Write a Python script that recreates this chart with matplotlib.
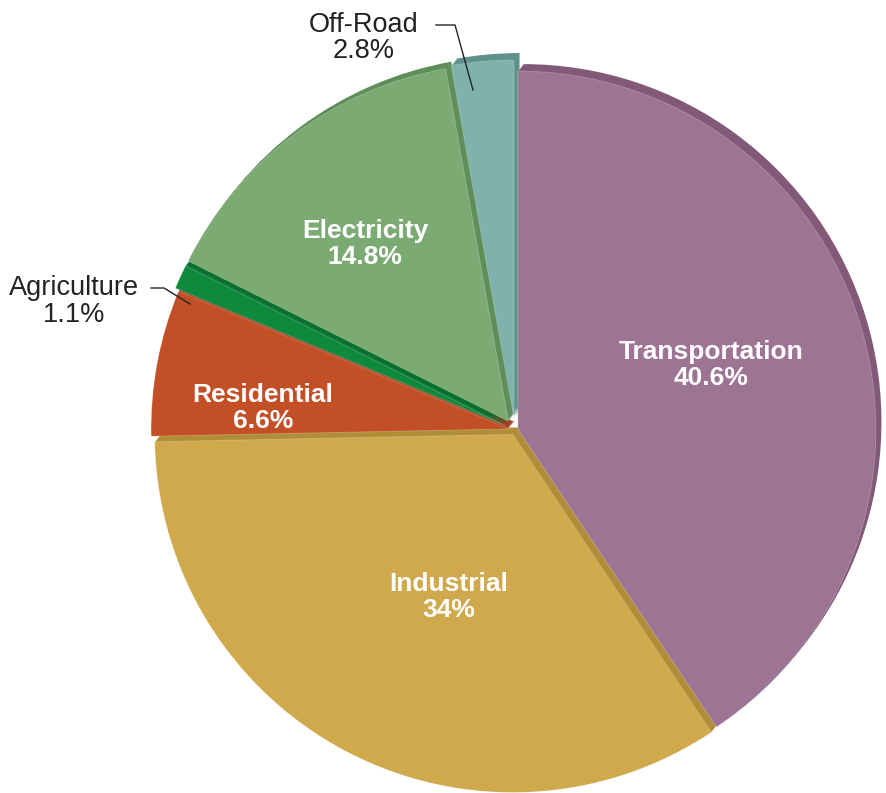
import matplotlib.pyplot as plt

categories = ['Transportation', 'Industrial', 'Residential', 'Agriculture', 'Electricity', 'Off-Road']
shares = [40.6, 34.0, 6.6, 1.1, 14.8, 2.8]
share_labels = ['40.6%', '34%', '6.6%', '1.1%', '14.8%', '2.8%']

colors = ['#9d7494', '#cfa94c', '#c24f26', '#0f8a3d', '#7bab73', '#80b1ad']
side_colors = ['#83597a', '#b08e38', '#a13f1e', '#0b6f31', '#5f8f59', '#5f918d']
# pie() offsets wedges by explode in data units (pixels here)
explode = [3, 5, 6, 10, 11, 12]

W, H = 887, 793
CX, CY = 515, H - 430
R = 358
DEPTH = 7

fig = plt.figure(figsize=(W / 100, H / 100), dpi=100)
ax = fig.add_axes([0, 0, 1, 1])

# extruded side faces: stack of darker copies shifted up-right
for k in range(DEPTH, 0, -1):
    ax.pie(shares, colors=side_colors, startangle=90, counterclock=False,
           center=(CX + 0.8 * k, CY + k), radius=R, explode=explode,
           wedgeprops=dict(linewidth=0), frame=True)
wedges, _ = ax.pie(shares, colors=colors, startangle=90, counterclock=False,
                   center=(CX, CY), radius=R, explode=explode,
                   wedgeprops=dict(linewidth=0.6, edgecolor='#ffffff40'), frame=True)
ax.set_xlim(0, W)
ax.set_ylim(0, H)
ax.set_aspect('equal')
ax.axis('off')

font = ['Liberation Sans', 'DejaVu Sans']
inner_pos = {'Transportation': (711, 365), 'Industrial': (449, 597),
             'Residential': (263, 408), 'Electricity': (365, 244)}
for name, lab in zip(categories, share_labels):
    if name not in inner_pos:
        continue
    x, y = inner_pos[name]
    ax.text(x, H - y, f'{name}\n{lab}', ha='center', va='center', color='white',
            fontsize=19, fontweight='bold', family=font, linespacing=1.1)

# outside labels with leader lines
ax.text(364, H - 38, 'Off-Road\n2.8%', ha='center', va='center', fontsize=19.5,
        family=font, color='#222222', linespacing=1.05)
ax.plot([436, 455, 473], [H - 25, H - 25, H - 90], color='#222222', lw=1)
ax.text(74, H - 302, 'Agriculture\n1.1%', ha='center', va='center', fontsize=19.5,
        family=font, color='#222222', linespacing=1.05)
ax.plot([151, 164, 190], [H - 288, H - 288, H - 304], color='#222222', lw=1)

fig.savefig('out.png', dpi=100)
